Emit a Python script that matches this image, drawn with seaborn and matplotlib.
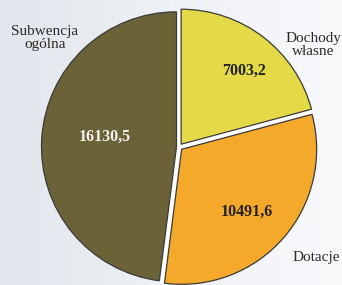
import numpy as np
import matplotlib.pyplot as plt
import seaborn as sns
from matplotlib.colors import LinearSegmentedColormap

# Data
labels = ['Dochody\nwłasne', 'Dotacje', 'Subwencja\nogólna']
values = [7003.2, 10491.6, 16130.5]
value_text = ['7003,2', '10491,6', '16130,5']
colors = ['#E4DA47', '#F5A92B', '#6B6237']

sns.set_style('white')
plt.rcParams['font.family'] = ['Liberation Serif', 'DejaVu Serif']

W, H = 342, 285
fig = plt.figure(figsize=(3.42, 2.85), dpi=100)
ax = fig.add_axes([0, 0, 1, 1])

# background gradient
bg = LinearSegmentedColormap.from_list('bg', ['#E2E6EC', '#EEF1F5', '#F8F9FB'])
grad = np.linspace(0, 1, 256).reshape(1, -1)
ax.imshow(grad, cmap=bg, extent=(0, W, 0, H), aspect='auto', zorder=0)

# pie, centre/radius in pixel units (y up); explode is absolute here
cx, cy, r = 179, H - 147, 135
wedges, _ = ax.pie(values, colors=colors, startangle=90, counterclock=False,
                   explode=[3.5, 3.5, 2.5], center=(cx, cy), radius=r,
                   wedgeprops=dict(edgecolor='#3A3A3A', linewidth=0.9))
for w in wedges:
    w.set_zorder(2)

# white gaps between the slices
bounds = 90 - 360 * np.cumsum([0] + values[:-1]) / sum(values)
for a in bounds:
    t = np.deg2rad(a)
    ax.plot([cx, cx + (r + 2) * np.cos(t)], [cy, cy + (r + 2) * np.sin(t)],
            color='white', lw=3.5, solid_capstyle='butt', zorder=1)

# value labels
val_pos = [(244, 71), (247, 212), (105, 137)]
val_col = ['#222222', '#222222', '#F4F4F0']
for (x, y), t, c in zip(val_pos, value_text, val_col):
    ax.text(x, H - y, t, ha='center', va='center', fontsize=11.5,
            fontweight='bold', color=c, zorder=3)

# category labels
lab_pos = [(313, 45), (316, 258), (45, 38)]
for (x, y), t in zip(lab_pos, labels):
    ax.text(x, H - y, t, ha='center', va='center', fontsize=11,
            color='#2A2A2A', linespacing=1.0, zorder=3)

ax.set_xlim(0, W)
ax.set_ylim(0, H)
ax.set_aspect('auto')
ax.axis('off')

plt.savefig('out.png', dpi=100)
